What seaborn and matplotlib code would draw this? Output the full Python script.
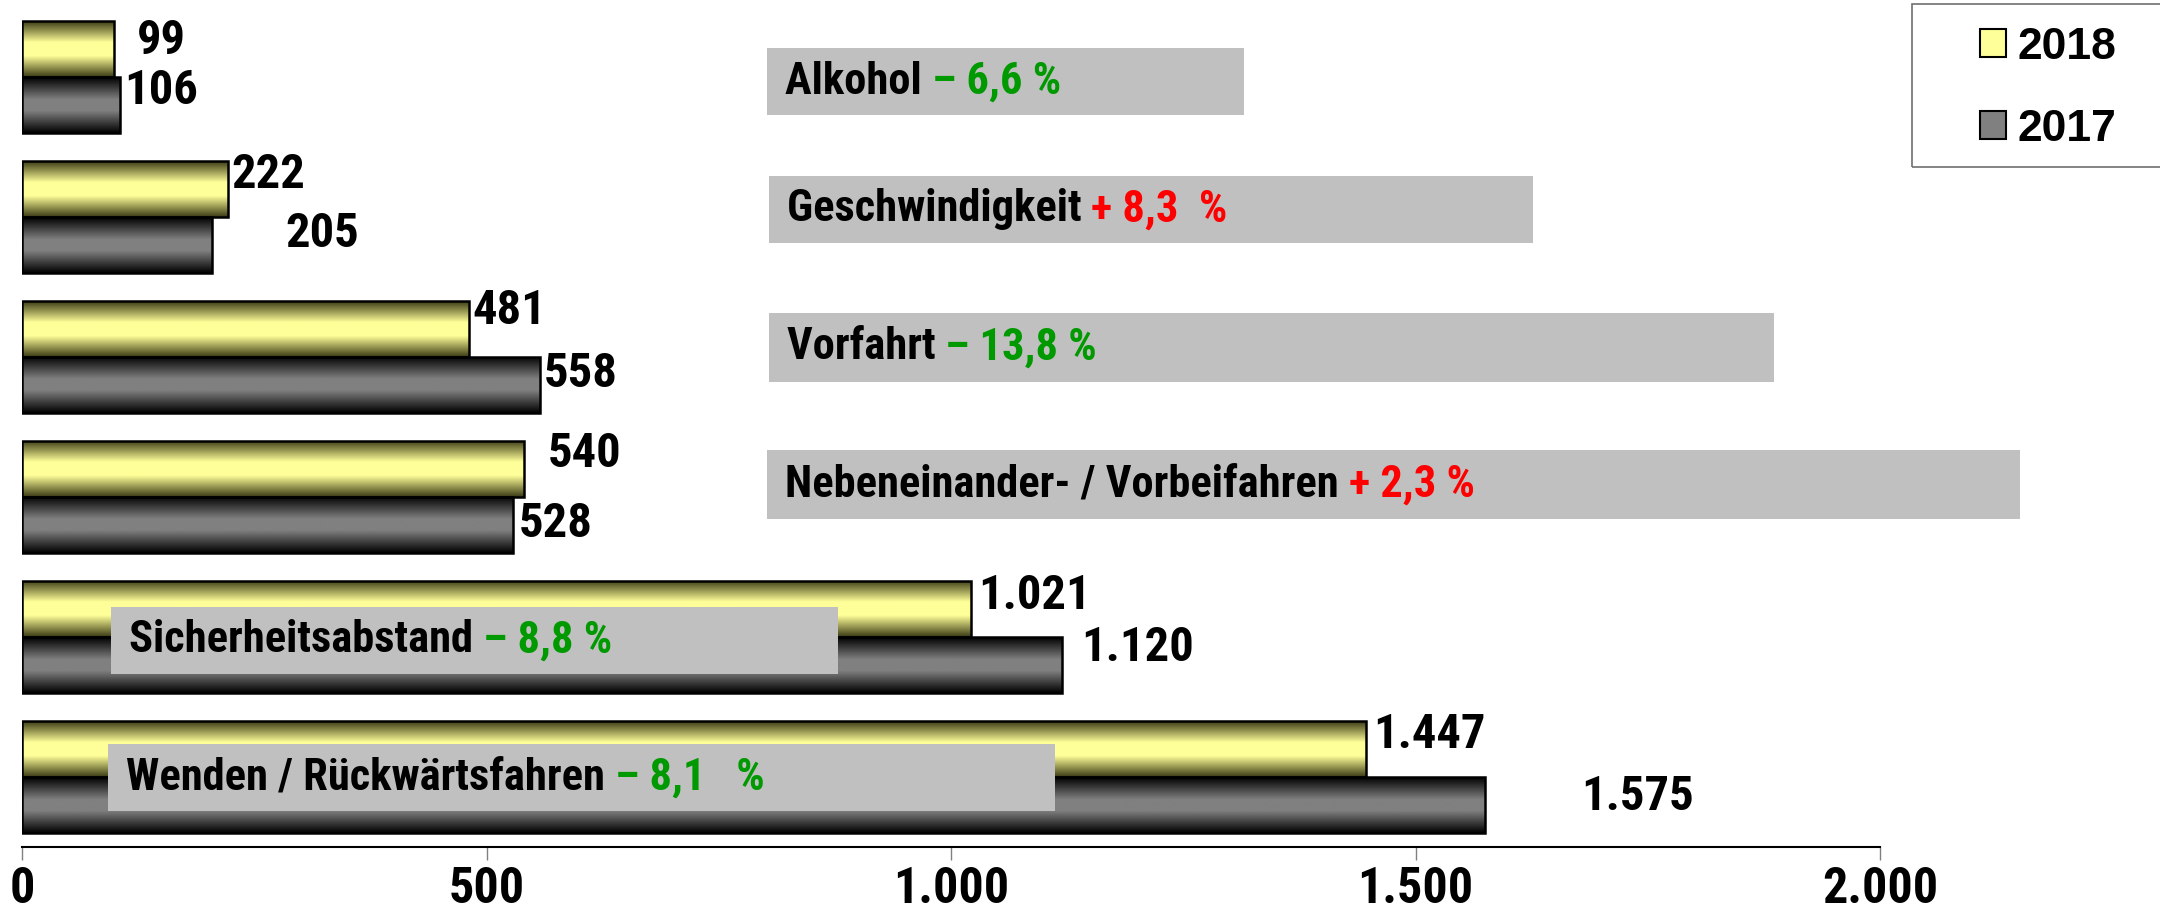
import numpy as np
import pandas as pd
import matplotlib
matplotlib.use("Agg")
import matplotlib.pyplot as plt
from matplotlib.patches import Rectangle, Patch
from matplotlib.colors import LinearSegmentedColormap
from matplotlib.ticker import FuncFormatter
from matplotlib.font_manager import FontProperties
import seaborn as sns

# ---------------- data ----------------
categories = ["Alkohol", "Geschwindigkeit", "Vorfahrt",
              "Nebeneinander- / Vorbeifahren", "Sicherheitsabstand",
              "Wenden / Rückwärtsfahren"]
years = ["2018", "2017"]
values_2018 = [99, 222, 481, 540, 1021, 1447]
values_2017 = [106, 205, 558, 528, 1120, 1575]
changes = ["– 6,6 %", "+ 8,3  %", "– 13,8 %", "+ 2,3 %", "– 8,8 %", "– 8,1   %"]
xtick_values = [0, 500, 1000, 1500, 2000]

# ---------------- layout / style (positions) ----------------
lab_dx_2018 = [25, 3, 4, 26, 8, 7]
lab_dy_2018 = [-0.06, -0.10, -0.13, -0.11, -0.09, -0.10]
lab_dx_2017 = [4, 78, 4, 7, 20, 103]
lab_dy_2017 = [-0.10, -0.08, -0.08, -0.01, -0.12, -0.06]

box_x0 = [802, 804, 804, 802, 96, 93]
box_x1 = [1315, 1626, 1886, 2151, 878, 1112]
box_y0 = [-0.206, 0.706, 1.686, 2.667, 3.784, 4.765]
box_y1 = [0.275, 1.186, 2.176, 3.157, 4.265, 5.245]
change_colors = ["#009900", "#ff0000", "#009900", "#ff0000", "#009900", "#009900"]

sns.set_theme(style="white")
narrow = ["Liberation Sans Narrow", "Roboto Condensed", "Noto Sans Condensed",
          "Open Sans Condensed", "Liberation Sans", "DejaVu Sans"]
plt.rcParams["font.family"] = narrow
plt.rcParams["font.stretch"] = "condensed"
plt.rcParams["text.color"] = "black"
plt.rcParams["xtick.color"] = "black"

W, H = 2160, 924
fig, ax = plt.subplots(figsize=(W / 100, H / 100), dpi=100)
fig.subplots_adjust(left=22 / W, right=1880 / W, top=1 - 7 / H, bottom=1 - 847 / H)

df = pd.DataFrame({
    "cat": categories * 2,
    "year": [years[0]] * len(categories) + [years[1]] * len(categories),
    "value": values_2018 + values_2017,
})

sns.barplot(data=df, x="value", y="cat", hue="year", hue_order=years,
            orient="h", width=0.8, palette=["#ffff99", "#808080"],
            saturation=1, edgecolor="black", linewidth=1.8, ax=ax,
            legend=False)

cm_yellow = LinearSegmentedColormap.from_list(
    "y", [(0, "#3a3a14"), (0.38, "#ffff99"), (0.62, "#ffff99"), (1, "#3a3a14")])
cm_gray = LinearSegmentedColormap.from_list(
    "g", [(0, "#000000"), (0.4, "#808080"), (0.6, "#808080"), (1, "#000000")])
grad = np.linspace(0, 1, 256).reshape(-1, 1)

for cont, cmap in zip(ax.containers, [cm_yellow, cm_gray]):
    for bar in cont:
        x0, y0 = bar.get_x(), bar.get_y()
        w, h = bar.get_width(), bar.get_height()
        im = ax.imshow(grad, extent=(x0, x0 + w, y0 + h, y0), aspect="auto",
                       cmap=cmap, origin="upper", zorder=2,
                       interpolation="bilinear")
        im.set_clip_path(bar)
        bar.set_facecolor("none")
        bar.set_zorder(3)

ax.set_xlim(0, 2000)
ax.set_ylim(5.5, -0.5)
ax.set_xlabel("")
ax.set_ylabel("")
ax.set_yticks([])
ax.set_xticks(xtick_values)
ax.xaxis.set_major_formatter(FuncFormatter(lambda v, p: f"{int(v):,}".replace(",", ".")))
ax.tick_params(axis="x", length=9, width=1, color="#808080", pad=5, labelsize=36,
               bottom=True, labelcolor="black")
for lbl in ax.get_xticklabels():
    lbl.set_fontweight("bold")
for s in ["left", "top", "right"]:
    ax.spines[s].set_visible(False)
ax.spines["bottom"].set_color("black")
ax.spines["bottom"].set_linewidth(1.5)

fmt = lambda v: f"{v:,}".replace(",", ".")
for i in range(len(categories)):
    ax.text(values_2018[i] + lab_dx_2018[i], i - 0.2 + lab_dy_2018[i], fmt(values_2018[i]),
            va="center", ha="left", fontsize=35, fontweight="bold", zorder=7)
    ax.text(values_2017[i] + lab_dx_2017[i], i + 0.2 + lab_dy_2017[i], fmt(values_2017[i]),
            va="center", ha="left", fontsize=35, fontweight="bold", zorder=7)

for i, cat in enumerate(categories):
    ax.add_patch(Rectangle((box_x0[i], box_y0[i]), box_x1[i] - box_x0[i],
                           box_y1[i] - box_y0[i], facecolor="#c0c0c0",
                           edgecolor="none", zorder=5, clip_on=False))
    t1 = ax.text(box_x0[i] + 19, (box_y0[i] + box_y1[i]) / 2, cat + " ",
                 va="center", ha="left", fontsize=32, fontweight="bold",
                 zorder=6, color="black")
    ax.annotate(changes[i], xy=(1, 0), xycoords=t1, va="bottom", ha="left",
                fontsize=32, fontweight="bold", color=change_colors[i], zorder=6)

handles = [Patch(facecolor="#ffff99", edgecolor="black", linewidth=1.5),
           Patch(facecolor="#808080", edgecolor="black", linewidth=1.5)]
fig.legend(handles, years, loc="upper left",
           bbox_to_anchor=(1953 / W, 1.0), frameon=False, borderpad=0.1,
           prop=FontProperties(family=["Liberation Sans", "DejaVu Sans"],
                               weight="bold", size=32, stretch="normal"),
           handlelength=0.6, handleheight=0.6, handletextpad=0.25,
           labelspacing=0.92)
fig.add_artist(Rectangle((1912 / W, 1 - 167 / H), 0.2, 163 / H,
                         transform=fig.transFigure, fill=False,
                         edgecolor="#707070", linewidth=1.2))

fig.savefig("out.png", dpi=100)
